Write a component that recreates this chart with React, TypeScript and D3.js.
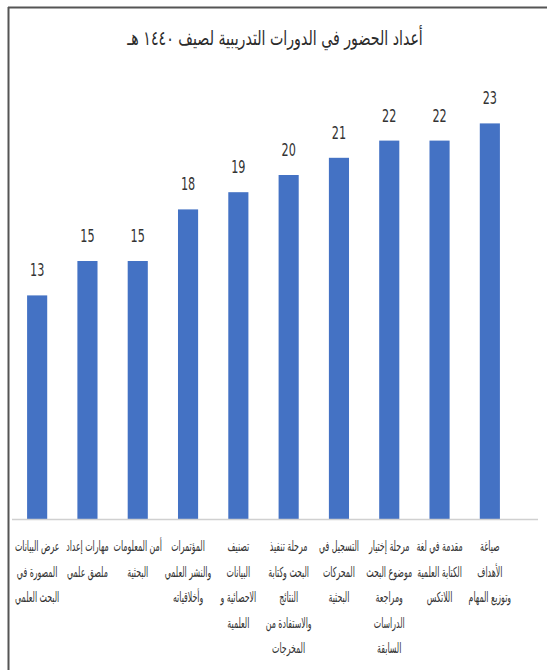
import React from "react";
import * as d3 from "d3";

const titleText = "أعداد الحضور في الدورات التدريبية لصيف ١٤٤٠ هـ";
const categories = [
  "عرض البيانات|المصورة في|البحث العلمي",
  "مهارات إعداد|ملصق علمي",
  "أمن المعلومات|البحثية",
  "المؤتمرات|والنشر العلمي|وأخلاقياته",
  "تصنيف|البيانات|الاحصائية و|العلمية",
  "مرحلة تنفيذ|البحث وكتابة|النتائج|والاستفادة من|المخرجات",
  "التسجيل في|المحركات|البحثية",
  "مرحلة إختيار|موضوع البحث|ومراجعة|الدراسات|السابقة",
  "مقدمة في لغة|الكتابة العلمية|اللاتكس",
  "صياغة|الأهداف|وتوزيع المهام",
];
const values = [13, 15, 15, 18, 19, 20, 21, 22, 22, 23];

const W = 547;
const H = 670;
const arabicFont = "'DejaVu Sans', sans-serif";
const numFont = "'Liberation Sans Narrow', 'DejaVu Sans', sans-serif";

export default function App() {
  const x = d3
    .scaleBand<string>()
    .domain(categories)
    .range([12, 515])
    .padding(0);
  const y = d3.scaleLinear().domain([0, 25]).range([519, 89]);
  const bw = x.bandwidth() * 0.4;

  return (
    <svg
      width={W}
      height={H}
      style={{ position: "absolute", left: 0, top: 0, background: "#fff" }}
    >
      <rect x={0} y={0} width={W} height={H} fill="#fff" />
      <line x1={8.5} y1={7} x2={8.5} y2={H} stroke="#555" strokeWidth={2} />
      <line x1={8} y1={7.5} x2={W} y2={7.5} stroke="#555" strokeWidth={2} />
      <g transform="translate(275,45) scale(0.71,1)">
        <text
          x={0}
          y={0}
          textAnchor="middle"
          fontFamily={arabicFont}
          fontSize={20}
          fill="#2b2b2b"
          direction="rtl"
        >
          {titleText}
        </text>
      </g>
      {categories.map((c, i) => {
        const cx = (x(c) as number) + x.bandwidth() / 2;
        return (
          <g key={c}>
            <rect
              x={cx - bw / 2}
              y={y(values[i])}
              width={bw}
              height={y(0) - y(values[i])}
              fill="#4472C4"
            />
            <g transform={`translate(${cx},${y(values[i]) - 19}) scale(0.66,1)`}>
              <text
                x={0}
                y={0}
                textAnchor="middle"
                fontFamily={numFont}
                fontSize={17}
                fill="#333"
              >
                {values[i]}
              </text>
            </g>
            {c.split("|").map((ln, j) => (
              <g key={j} transform={`translate(${cx},${551 + j * 25.5}) scale(0.56,1)`}>
                <text
                  x={0}
                  y={0}
                  textAnchor="middle"
                  fontFamily={arabicFont}
                  fontSize={14}
                  fill="#333"
                  direction="rtl"
                >
                  {ln}
                </text>
              </g>
            ))}
          </g>
        );
      })}
      <line x1={12} y1={519.5} x2={538} y2={519.5} stroke="#d0d0d0" strokeWidth={1.5} />
    </svg>
  );
}
